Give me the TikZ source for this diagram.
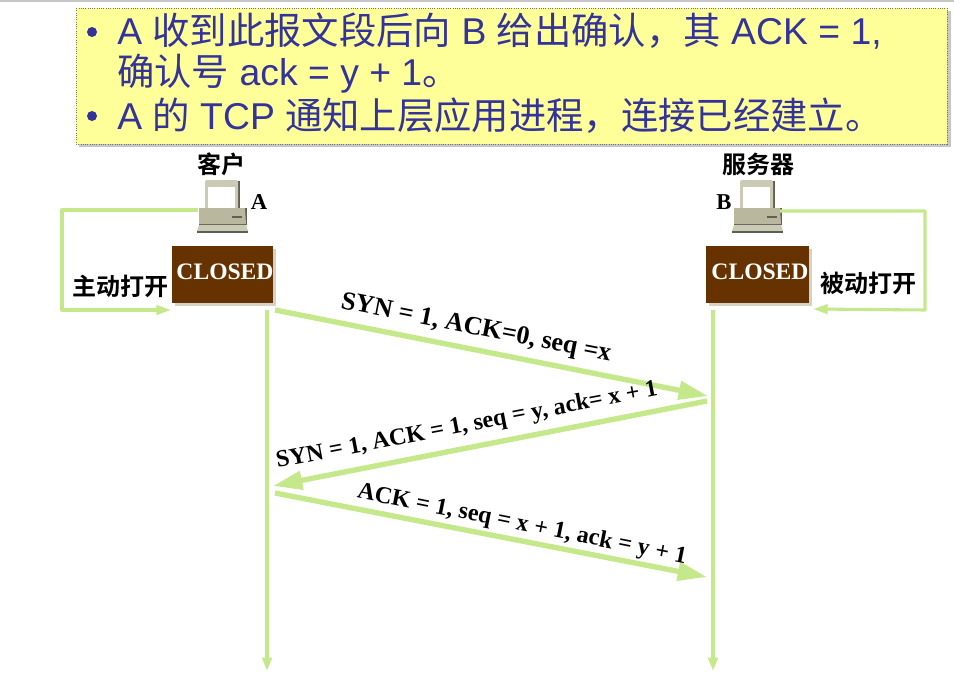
\documentclass[tikz,border=0pt]{standalone}
\usepackage{fontspec}
\usetikzlibrary{arrows.meta,shapes.geometric}
\setmainfont{Liberation Serif}
\newfontfamily\headfont{Liberation Sans}
\newfontfamily\cjk{Noto Sans CJK SC}
\newfontfamily\cjkb{Noto Sans CJK SC Bold}
\definecolor{navy}{HTML}{333399}
\definecolor{note}{HTML}{FFFF99}
\definecolor{flow}{HTML}{C4E88A}
\definecolor{brown}{HTML}{663300}
\definecolor{stateshadow}{HTML}{D6D2C4}
\definecolor{pcbody}{HTML}{B9B89E}
\definecolor{pclight}{HTML}{CBCAB4}
\definecolor{pcdark}{HTML}{5E5E52}
\tikzset{
  x=0.75pt,y=-0.75pt,
  headline/.style={anchor=base west,inner sep=0pt,text=navy,font=\headfont\fontsize{28}{28}\selectfont},
  bullet/.style={circle,fill=navy,inner sep=0pt,minimum size=7.5pt},
  cjklabel/.style={inner sep=0pt,text=black,font=\cjkb\fontsize{18}{18}\selectfont},
  letter/.style={inner sep=0pt,text=black,font=\bfseries\fontsize{17}{17}\selectfont},
  msg/.style={inner sep=0pt,text=black,font=\bfseries\fontsize{18}{18}\selectfont},
  state/.style={fill=brown,minimum width=75.8pt,minimum height=42.8pt,inner sep=0pt},
  statetext/.style={inner sep=0pt,text=white,font=\bfseries\fontsize{17.7}{17.7}\selectfont},
  loopline/.style={draw=flow,line width=2.3pt,line join=round,-{Triangle[length=11pt,width=7pt]}},
  lifeline/.style={draw=flow,line width=2.6pt,-{Triangle[length=10pt,width=7pt]}},
  bigflow/.style={draw=flow,line width=4pt,-{Triangle[length=22pt,width=13.5pt]}},
  computer/.pic={
    \fill[pcdark] (8,0) rectangle (42,30);
    \fill[pclight,rounded corners=1.5pt] (7,-1) rectangle (40,30);
    \fill[white] (10,6) rectangle (37,28);
    \fill[pcdark] (1,27) -- (49,27) -- (49,44) -- (1,44) -- cycle;
    \fill[pcbody] (1,27) -- (47,27) -- (48,43) -- (1,43) -- cycle;
    \fill[pcdark] (34,35) rectangle (44,37);
    \fill[pclight] (1,44) -- (48,44) -- (50,50) -- (-1,50) -- cycle;
    \fill[pcdark] (-1,50) rectangle (50,52);
  }
}
\begin{document}
\begin{tikzpicture}
\useasboundingbox (0,0) rectangle (954,682);
\fill[white] (0,0) rectangle (954,682);
\fill[gray!45] (0,0) rectangle (954,2);
% note panel
\fill[black!22] (79,11) rectangle (951,147);
\draw[fill=note,draw=black!55,densely dotted,line width=0.7pt] (76,8) rectangle (947,144);
\node[bullet] (b1) at (92,32) {};
\node[bullet] (b2) at (92,116) {};
\node[headline] (l1) at (117,44) {A {\cjk 收到此报文段后向} B {\cjk 给出确认，其} ACK = 1,};
\node[headline] (l2) at (117,85) {{\cjk 确认号} ack = y + 1{\cjk 。}};
\node[headline] (l3) at (117,129) {A {\cjk 的} TCP {\cjk 通知上层应用进程，连接已经建立。}};
% end titles
\node[cjklabel] (ca) at (221,164) {客户};
\node[cjklabel] (sb) at (758,164) {服务器};
\node[letter] (la) at (259,202) {A};
\node[letter] (lb) at (724,202) {B};
\pic at (198,181) {computer};
\pic at (733,181) {computer};
\coordinate (pcA) at (198,210);
\coordinate (pcB) at (780,211);
% states
\fill[stateshadow] (175,249) rectangle (276,306);
\fill[stateshadow] (709,249) rectangle (812,306);
\node[state] (sa) at (222.5,274.5) {};
\node[state,minimum width=77.2pt] (sbb) at (757.5,274.5) {};
\node[statetext] (ta) at (225,272) {CLOSED};
\node[statetext] (tb) at (760,272) {CLOSED};
\node[cjklabel] (ao) at (120.5,286) {主动打开};
\node[cjklabel] (po) at (868,283) {被动打开};
% loops
\coordinate (aa) at (62,210);
\coordinate (ab) at (62,310);
\coordinate (ae) at (171,310);
\coordinate (ba) at (925,211);
\coordinate (bb) at (925,310);
\coordinate (be) at (813,309);
\draw[loopline] (pcA) -- (aa) -- (ab) -- (ae);
\draw[loopline] (pcB) -- (ba) -- (bb) -- (be);
% lifelines
\coordinate (ta0) at (267,310);
\coordinate (ta1) at (267,671);
\coordinate (tb0) at (713,310);
\coordinate (tb1) at (713,671);
\draw[lifeline] (ta0) -- (ta1);
\draw[lifeline] (tb0) -- (tb1);
% messages
\coordinate (m1s) at (275,310);
\coordinate (m1e) at (708,396);
\coordinate (m2s) at (707,401);
\coordinate (m2e) at (273,486);
\coordinate (m3s) at (275,493);
\coordinate (m3e) at (707,577);
\draw[bigflow] (m1s) -- (m1e);
\draw[bigflow] (m2s) -- (m2e);
\draw[bigflow] (m3s) -- (m3e);
\node[msg,rotate=-11.2,font=\bfseries\fontsize{19.5}{19.5}\selectfont] (t1) at (476,329) {SYN = 1, ACK=0, seq =x};
\node[msg,rotate=10.8] (t2) at (467,426) {SYN = 1, ACK = 1, seq = y, ack= x + 1};
\node[msg,rotate=-11.3] (t3) at (522,525) {ACK = 1, seq = x + 1, ack = y + 1};
\end{tikzpicture}
\end{document}
